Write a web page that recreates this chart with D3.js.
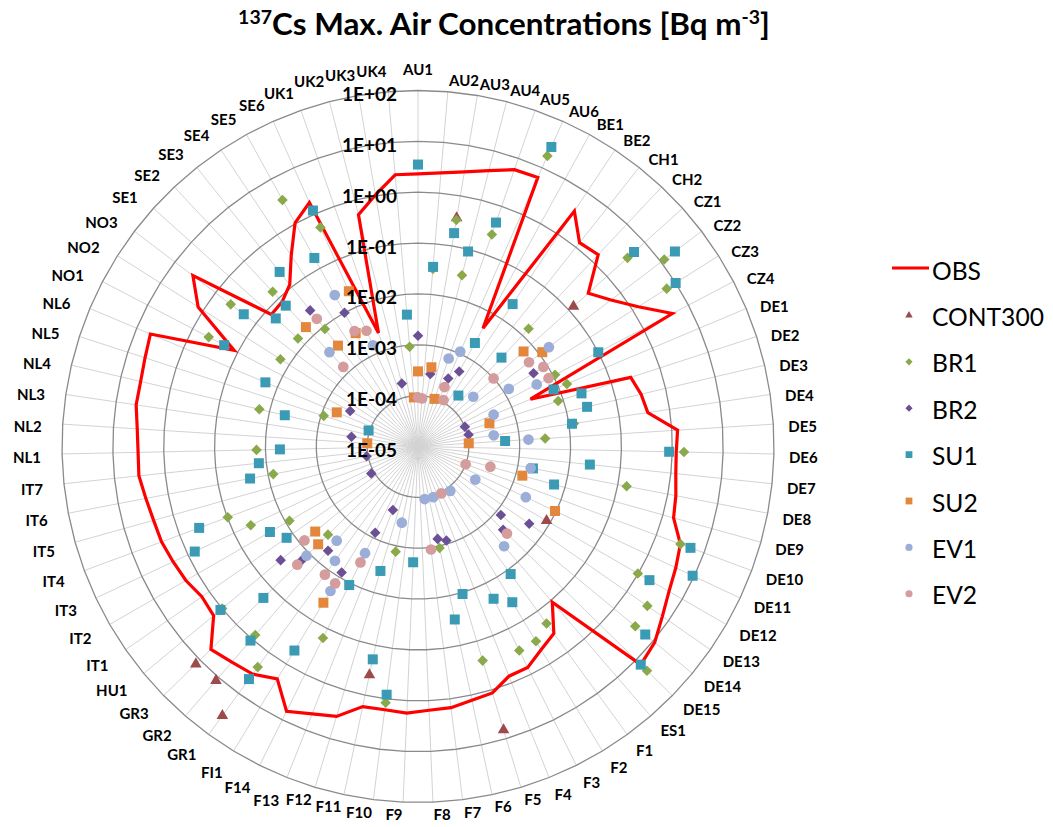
<!DOCTYPE html>
<html>
<head>
<meta charset="utf-8">
<script src="https://cdn.jsdelivr.net/npm/d3@7"></script>
<style>
  body { margin: 0; background: #fff; }
  text { font-family: Lato, "Open Sans", sans-serif; fill: #000; }
</style>
</head>
<body>
<svg id="chart" width="1053" height="827"></svg>
<script>
const _ = null;

const categories = [
  "AU1","AU2","AU3","AU4","AU5","AU6","BE1","BE2","CH1","CH2","CZ1","CZ2","CZ3","CZ4",
  "DE1","DE2","DE3","DE4","DE5","DE6","DE7","DE8","DE9","DE10","DE11","DE12","DE13","DE14","DE15",
  "ES1","F1","F2","F3","F4","F5","F6","F7","F8","F9","F10","F11","F12","F13","F14",
  "FI1","GR1","GR2","GR3","HU1","IT1","IT2","IT3","IT4","IT5","IT6","IT7",
  "NL1","NL2","NL3","NL4","NL5","NL6","NO1","NO2","NO3","SE1","SE2","SE3","SE4","SE5","SE6",
  "UK1","UK2","UK3","UK4"
];

const ringTicks = [1e-5, 1e-4, 1e-3, 1e-2, 1e-1, 1, 10, 100];
const ringLabels = ["1E-05","1E-04","1E-03","1E-02","1E-01","1E+00","1E+01","1E+02"];

// rows: AU | BE | CH | CZ | DE | ES | F | FI | GR | HU | IT | NL | NO | SE | UK
const obs = [
  2.3, 2.5, 3.0, 4.0, 5.8, 6.2,
  4.5e-3, 3.6,
  1.3, 1.5,
  0.32, 0.58, 1.35, 4.4,
  2.5e-3, 0.25, 0.32, 0.37, 1.3, 1.2, 1.25, 1.45, 1.65, 3.2, 4.0, 5.0, 7.1, 11, 13.5,
  0.11,
  0.35, 0.47, 0.71, 0.72, 1.15, 1.26, 1.5, 1.55, 1.76, 1.65, 1.69, 3.5, 4.5, 6.5,
  2.2,
  3.4, 4.0, 5.0,
  1.64,
  1.5, 1.86, 2.1, 2.4, 2.5, 2.8, 3.3,
  3.2, 3.4, 4.0, 4.0, 4.4, 5.1,
  0.12, 1.32, 3.6,
  0.076, 0.08, 0.115, 0.32, 1.04, 1.78,
  2.3e-3, 0.51, 1.04, 2.3
];

const cont300 = [
  _, _, 0.36, _, _, _,
  _, _,
  _, _,
  0.13, _, _, _,
  _, _, _, _, _, _, _, _, _, _, _, 8.3e-3, _, _, _,
  _,
  _, _, _, _, 6.6, _, _, _, _, _, 0.39, _, _, _,
  _,
  35, 12, 13,
  _,
  _, _, _, _, _, _, _,
  _, _, _, _, _, _,
  _, _, _,
  _, _, _, _, _, _,
  _, _, _, _
];

const br1 = [
  _, 0.032, 0.33, 0.030, 0.26, 18,
  _, _,
  _, 0.015,
  3.5, 12, 6.2, 0.011,
  0.015, 7.9e-3, _, 0.0126, 3.2e-3, 1.7, _, 0.15, _, 3.2, _, 0.98, 3.1, 3.5, 20,
  _,
  0.2, 0.3, 0.3, _, 0.25, 1.1e-3, _, _, _, 1.2, 1.3e-3, _, _, 0.16,
  _,
  2.3, 0.79, 3.0e-3,
  1.0,
  _, 8.3e-3, 0.043, 0.098, _, 7.9e-3, _,
  0.015, _, _, 0.016, 8.9e-4, _,
  0.44, 0.016, 0.42,
  0.015, 0.15, 8.9e-3, _, 3.4, 0.52,
  _, _, _, 9.3e-4
];

const br2 = [
  1.5e-3, _, 2.8e-4, _, _, 2.9e-4,
  4.8e-4, _,
  _, _,
  _, _, 4.9e-3, _,
  1.0e-4, _, 1.05e-4, _, _, _, _, _, _, _, _, _, 4.6e-3, 1.3e-3, 2.2e-3,
  _,
  _, _, _, _, 8.5e-4, 7.2e-4, _, _, _, _, _, _, 2.2e-4, 7.8e-4,
  7.9e-3,
  _, 5.1e-3, 0.016,
  0.032,
  _, 1.15e-4, _, _, _, 1.07e-4, _,
  _, _, 2.1e-4, _, _, _,
  3.2e-4, _, _,
  _, _, 0.026, _, 0.01, _,
  _, 1.9e-4, _, _
];

const su1 = [
  3.5, 0.035, 0.18, 0.091, 0.46, 28,
  2.1e-3, 0.023,
  1.9e-4, 2.5e-3,
  5.2, 22, 10, 0.1,
  7.8e-3, 0.024, 0.026, 0.0115, 5.2e-4, 0.87, 0.025, 2.0e-3, 6.0e-3, 5.2, 9.3, 1.8, _, 6.3, 13.5,
  _,
  0.0126, 0.038, 0.022, _, 0.0107, 0.03, _, _, 1.9e-3, 0.83, 0.19, 3.6e-3, _, 0.011,
  0.49,
  4.5, 1.1, 0.18,
  1.1,
  0.014, 0.023, 0.71, 0.39, _, 0.023, 0.014,
  5.2e-3, _, _, 4.9e-3, 1.05e-4, 0.018,
  0.2, _, 0.2,
  0.058, 0.063, 0.24, _, 0.17, 1.2,
  _, _, _, 4.0e-3
];

const su2 = [
  3.0e-4, _, 3.8e-4, _, 9.8e-5, _,
  _, _,
  _, _,
  6.2e-3, 0.0117, _, _,
  _, 3.0e-4, _, _, 1.0e-4, _, _, _, 1.35e-3, _, 9.5e-3, _, _, _, _,
  _,
  _, _, _, _, _, _, _, _, _, _, _, _, _, _,
  0.039,
  _, _, 5.6e-3,
  4.2e-3,
  _, _, _, _, _, _, _,
  _, 1.0e-4, _, _, _, 5.4e-4,
  _, _, _,
  _, 0.0166, 3.4e-3, _, 3.5e-3, 0.022,
  _, _, _, 9.3e-5
];

const ev1 = [
  _, _, _, _, 6.8e-4, 1.1e-3,
  _, _,
  _, _,
  2.9e-4, 0.017, 1.3e-3, 4.3e-3,
  4.1e-4, _, _, 3.2e-4, 1.5e-3, _, _, 1.8e-3, _, _, 2.2e-3, 2.0e-4, _, _, _,
  3.9e-3,
  1.2e-4, _, _, _, 1.1e-4, _, 1.1e-4, _, _, _, 3.4e-4, _, _, 2.2e-3,
  0.021,
  6.0e-3, 2.8e-3, 0.0117,
  _,
  _, _, _, _, _, _, _,
  _, _, _, _, _, _,
  _, _, _,
  _, 3.5e-3, _, _, 0.025, 1.5e-3,
  _, _, _, _
];

const ev2 = [
  9.3e-5, 8.9e-5, _, _, _, 1.9e-4,
  1.1e-4, _,
  _, _,
  1.0e-3, 5.5e-3, 8.3e-3, 7.9e-3,
  _, _, _, _, _, _, _, _, 3.0e-4, 1.0e-4, _, _, _, _, 2.8e-3,
  _,
  _, _, 1.07e-4, _, _, _, 1.1e-3, _, _, _, _, _, _, 3.5e-3,
  0.014,
  0.013, _, 0.021,
  7.9e-3,
  _, _, _, _, _, _, _,
  _, _, _, _, _, _,
  _, _, _,
  _, 1.4e-3, 0.016, _, 3.9e-3, 3.1e-3,
  _, _, _, _
];

// marker series, in drawing order
const markerSeries = [
  { name: "CONT300", values: cont300, color: "#9e4a4c", shape: "triangle" },
  { name: "BR1",     values: br1,     color: "#8aa94a", shape: "diamond" },
  { name: "BR2",     values: br2,     color: "#6b5096", shape: "diamond" },
  { name: "SU1",     values: su1,     color: "#3b9bb4", shape: "square" },
  { name: "SU2",     values: su2,     color: "#e2873b", shape: "square" },
  { name: "EV1",     values: ev1,     color: "#9aaed8", shape: "circle" },
  { name: "EV2",     values: ev2,     color: "#d49c9c", shape: "circle" }
];

const width = 1053, height = 827;
const cx = 418, cy = 446.5, R = 356;
const n = categories.length;

const svg = d3.select("#chart");

const rScale = d3.scaleLog().domain([1e-5, 1e2]).range([0, R]);
const angle = d3.scaleLinear().domain([0, n]).range([0, 2 * Math.PI]);

function pos(i, v) {
  var a = angle(i), rr = rScale(v);
  return [cx + rr * Math.sin(a), cy - rr * Math.cos(a)];
}

// font size so that a sample string gets a given width
function fitSize(str, weight, target) {
  var t = svg.append("text").attr("font-size", 100).attr("font-weight", weight).text(str);
  var w = t.node().getComputedTextLength();
  t.remove();
  return 100 * target / w;
}

var catSize = fitSize("AU2", "bold", 30);
var ringSize = fitSize("1E+02", "bold", 55);
var legSize = fitSize("CONT300", "normal", 112);

function symbolFor(shape, big) {
  if (shape == "triangle") return d3.symbol(d3.symbolTriangle, big ? 58 : 24);
  if (shape == "diamond") return d3.symbol(d3.symbolSquare, big ? 56 : 26);
  if (shape == "square") return d3.symbol(d3.symbolSquare, big ? 100 : 46);
  return d3.symbol(d3.symbolCircle, big ? 90 : 40);
}

// grid
var grid = svg.append("g");
grid.selectAll("line")
  .data(categories)
  .join("line")
    .attr("x1", cx).attr("y1", cy)
    .attr("x2", (d, i) => pos(i, 1e2)[0])
    .attr("y2", (d, i) => pos(i, 1e2)[1])
    .attr("stroke", "#d3d3d3")
    .attr("stroke-width", 1);

var ringLine = d3.lineRadial()
  .angle((d, i) => angle(i))
  .radius(d => rScale(d))
  .curve(d3.curveLinearClosed);

grid.selectAll("path")
  .data(ringTicks.slice(1))
  .join("path")
    .attr("transform", "translate(" + cx + "," + cy + ")")
    .attr("d", t => ringLine(categories.map(() => t)))
    .attr("fill", "none")
    .attr("stroke", "#8a8a8a")
    .attr("stroke-width", 1.3);

// OBS line (under the markers)
svg.append("path")
  .attr("transform", "translate(" + cx + "," + cy + ")")
  .attr("d", ringLine(obs))
  .attr("fill", "none")
  .attr("stroke", "#ff0000")
  .attr("stroke-width", 3.2);

// markers
markerSeries.forEach(function(s) {
  var pts = s.values.map((v, i) => ({ i: i, v: v })).filter(d => d.v != null);
  svg.append("g").selectAll("path")
    .data(pts)
    .join("path")
      .attr("d", symbolFor(s.shape, true))
      .attr("transform", function(d) {
        var p = pos(d.i, d.v);
        return "translate(" + p[0] + "," + p[1] + ")" + (s.shape == "diamond" ? " rotate(45)" : "");
      })
      .attr("fill", s.color);
});

// ring labels
svg.append("g").selectAll("text")
  .data(ringTicks)
  .join("text")
    .attr("x", 397)
    .attr("y", t => cy - rScale(t) + 3)
    .attr("text-anchor", "end")
    .attr("dominant-baseline", "central")
    .attr("font-weight", "bold")
    .attr("font-size", ringSize)
    .text((t, i) => ringLabels[i]);

// category labels
svg.append("g").selectAll("text")
  .data(categories)
  .join("text")
    .each(function(d, i) {
      var a = angle(i), s = Math.sin(a), c = Math.cos(a);
      var anchor = Math.abs(s) < 0.02 ? "middle" : (s > 0 ? "start" : "end");
      var lr = s > 0.02 ? 371 : (s < -0.02 ? 377 : 370);
      if (c < -0.95) lr = 368;
      var x = cx + lr * s, y = cy - lr * c;
      if (anchor == "middle") y = c > 0 ? y - 8 : y + 8;
      else if (c < -0.95) y += 0;
      else if (!(s < 0 && c > 0.95)) y += 3;
      d3.select(this)
        .attr("x", x).attr("y", y)
        .attr("text-anchor", anchor)
        .attr("dominant-baseline", "central");
    })
    .attr("font-weight", "bold")
    .attr("font-size", catSize)
    .text(d => d);

// title
var title = svg.append("text")
  .attr("x", 504).attr("y", 35)
  .attr("text-anchor", "middle")
  .attr("font-weight", "bold")
  .attr("font-size", 26);
title.append("tspan").attr("font-size", "0.62em").attr("dy", "-0.55em").text("137");
title.append("tspan").attr("dy", "0.34em").text("Cs Max. Air Concentrations [Bq m");
title.append("tspan").attr("font-size", "0.62em").attr("dy", "-0.55em").text("-3");
title.append("tspan").attr("dy", "0.34em").text("]");
var tw = title.node().getBBox().width;
title.attr("font-size", 26 * 532 / tw);

// legend
var legY0 = 270, legStep = 46.4, legText = 932;
var legend = svg.append("g");
legend.append("line")
  .attr("x1", 892).attr("x2", 929)
  .attr("y1", legY0 - 2).attr("y2", legY0 - 2)
  .attr("stroke", "#ff0000").attr("stroke-width", 3.2);
legend.append("text")
  .attr("x", legText).attr("y", legY0)
  .attr("dominant-baseline", "central")
  .attr("font-size", legSize)
  .text("OBS");

markerSeries.forEach(function(s, k) {
  var y = legY0 + legStep * (k + 1);
  legend.append("path")
    .attr("d", symbolFor(s.shape, false))
    .attr("transform", "translate(909," + (y - 1) + ")" + (s.shape == "diamond" ? " rotate(45)" : ""))
    .attr("fill", s.color);
  legend.append("text")
    .attr("x", legText).attr("y", y)
    .attr("dominant-baseline", "central")
    .attr("font-size", legSize)
    .text(s.name);
});
</script>
</body>
</html>
